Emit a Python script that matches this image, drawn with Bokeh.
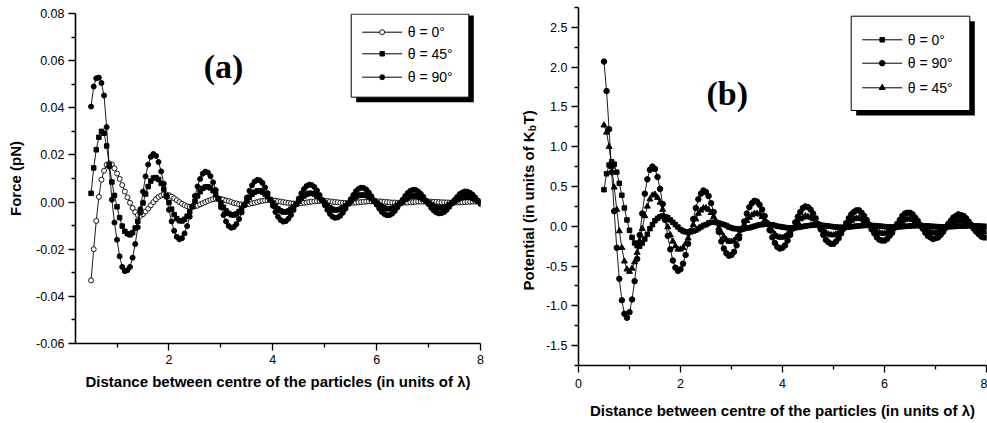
import math
from bokeh.plotting import figure
from bokeh.layouts import row
from bokeh.models import Range1d, FixedTicker, PrintfTickFormatter
from bokeh.core.properties import value
from bokeh.embed import file_html
from bokeh.resources import INLINE

# ---------------- data ----------------
X = [0.50, 0.55, 0.60, 0.65, 0.70, 0.75, 0.80, 0.85, 0.90, 0.95,
     1.00, 1.05, 1.10, 1.15, 1.20, 1.25, 1.30, 1.35, 1.40, 1.45,
     1.50, 1.55, 1.60, 1.65, 1.70, 1.75, 1.80, 1.85, 1.90, 1.95,
     2.00, 2.05, 2.10, 2.15, 2.20, 2.25, 2.30, 2.35, 2.40, 2.45,
     2.50, 2.55, 2.60, 2.65, 2.70, 2.75, 2.80, 2.85, 2.90, 2.95,
     3.00, 3.05, 3.10, 3.15, 3.20, 3.25, 3.30, 3.35, 3.40, 3.45,
     3.50, 3.55, 3.60, 3.65, 3.70, 3.75, 3.80, 3.85, 3.90, 3.95,
     4.00, 4.05, 4.10, 4.15, 4.20, 4.25, 4.30, 4.35, 4.40, 4.45,
     4.50, 4.55, 4.60, 4.65, 4.70, 4.75, 4.80, 4.85, 4.90, 4.95,
     5.00, 5.05, 5.10, 5.15, 5.20, 5.25, 5.30, 5.35, 5.40, 5.45,
     5.50, 5.55, 5.60, 5.65, 5.70, 5.75, 5.80, 5.85, 5.90, 5.95,
     6.00, 6.05, 6.10, 6.15, 6.20, 6.25, 6.30, 6.35, 6.40, 6.45,
     6.50, 6.55, 6.60, 6.65, 6.70, 6.75, 6.80, 6.85, 6.90, 6.95,
     7.00, 7.05, 7.10, 7.15, 7.20, 7.25, 7.30, 7.35, 7.40, 7.45,
     7.50, 7.55, 7.60, 7.65, 7.70, 7.75, 7.80, 7.85, 7.90, 7.95,
     8.00]

# panel (a): force (pN)
FORCE_0 = [-0.0332, -0.0200, -0.0080, 0.0022, 0.0095, 0.0133, 0.0158, 0.0164, 0.0160, 0.0143,
           0.0121, 0.0098, 0.0072, 0.0045, 0.0020, -0.0003, -0.0025, -0.0043, -0.0055, -0.0058,
           -0.0051, -0.0040, -0.0028, -0.0014, 0.0000, 0.0012, 0.0022, 0.0028, 0.0032, 0.0032,
           0.0029, 0.0023, 0.0016, 0.0008, 0.0000, -0.0007, -0.0013, -0.0018, -0.0020, -0.0020,
           -0.0018, -0.0015, -0.0010, -0.0005, 0.0000, 0.0005, 0.0009, 0.0012, 0.0014, 0.0014,
           0.0013, 0.0010, 0.0007, 0.0004, 0.0000, -0.0004, -0.0006, -0.0009, -0.0010, -0.0010,
           -0.0009, -0.0008, -0.0005, -0.0003, 0.0000, 0.0003, 0.0005, 0.0007, 0.0008, 0.0008,
           0.0007, 0.0006, 0.0004, 0.0002, 0.0000, -0.0002, -0.0004, -0.0005, -0.0006, -0.0006,
           -0.0006, -0.0005, -0.0003, -0.0002, 0.0000, 0.0002, 0.0003, 0.0004, 0.0005, 0.0005,
           0.0005, 0.0004, 0.0003, 0.0001, 0.0000, -0.0001, -0.0003, -0.0003, -0.0004, -0.0004,
           -0.0004, -0.0003, -0.0002, -0.0001, 0.0000, 0.0001, 0.0002, 0.0003, 0.0003, 0.0003,
           0.0003, 0.0003, 0.0002, 0.0001, 0.0000, -0.0001, -0.0002, -0.0002, -0.0003, -0.0003,
           -0.0003, -0.0002, -0.0002, -0.0001, 0.0000, 0.0001, 0.0002, 0.0002, 0.0002, 0.0002,
           0.0002, 0.0002, 0.0001, 0.0001, 0.0000, -0.0001, -0.0001, -0.0002, -0.0002, -0.0002,
           -0.0002, -0.0002, -0.0001, -0.0001, 0.0000, 0.0001, 0.0001, 0.0002, 0.0002, 0.0002,
           0.0002]
FORCE_45 = [0.0037, 0.0145, 0.0222, 0.0275, 0.0300, 0.0292, 0.0238, 0.0157, 0.0085, 0.0028,
            -0.0020, -0.0066, -0.0102, -0.0124, -0.0134, -0.0139, -0.0130, -0.0110, -0.0081, -0.0044,
            -0.0004, 0.0034, 0.0066, 0.0089, 0.0102, 0.0104, 0.0096, 0.0079, 0.0055, 0.0027,
            -0.0002, -0.0030, -0.0053, -0.0070, -0.0079, -0.0080, -0.0073, -0.0060, -0.0041, -0.0019,
            0.0004, 0.0026, 0.0044, 0.0058, 0.0064, 0.0065, 0.0060, 0.0048, 0.0032, 0.0014,
            -0.0004, -0.0022, -0.0038, -0.0048, -0.0054, -0.0055, -0.0050, -0.0040, -0.0027, -0.0012,
            0.0005, 0.0020, 0.0033, 0.0042, 0.0047, 0.0048, 0.0043, 0.0034, 0.0023, 0.0010,
            -0.0004, -0.0018, -0.0029, -0.0037, -0.0042, -0.0042, -0.0038, -0.0030, -0.0020, -0.0008,
            0.0004, 0.0016, 0.0026, 0.0033, 0.0037, 0.0037, 0.0034, 0.0026, 0.0018, 0.0007,
            -0.0004, -0.0014, -0.0024, -0.0030, -0.0034, -0.0033, -0.0030, -0.0024, -0.0016, -0.0006,
            0.0004, 0.0014, 0.0022, 0.0028, 0.0030, 0.0030, 0.0028, 0.0022, 0.0014, 0.0005,
            -0.0004, -0.0012, -0.0020, -0.0025, -0.0028, -0.0028, -0.0026, -0.0020, -0.0013, -0.0005,
            0.0004, 0.0012, 0.0018, 0.0024, 0.0026, 0.0026, 0.0024, 0.0018, 0.0012, 0.0004,
            -0.0004, -0.0011, -0.0018, -0.0022, -0.0024, -0.0024, -0.0022, -0.0018, -0.0011, -0.0004,
            0.0004, 0.0010, 0.0016, 0.0020, 0.0022, 0.0022, 0.0020, 0.0016, 0.0010, 0.0004,
            -0.0003]
FORCE_90 = [0.0405, 0.0490, 0.0525, 0.0528, 0.0505, 0.0452, 0.0318, 0.0150, 0.0010, -0.0087,
            -0.0160, -0.0230, -0.0275, -0.0293, -0.0289, -0.0275, -0.0236, -0.0178, -0.0107, -0.0030,
            0.0044, 0.0109, 0.0159, 0.0192, 0.0204, 0.0196, 0.0170, 0.0130, 0.0078, 0.0022,
            -0.0033, -0.0082, -0.0122, -0.0147, -0.0158, -0.0153, -0.0133, -0.0102, -0.0062, -0.0018,
            0.0026, 0.0066, 0.0098, 0.0120, 0.0129, 0.0125, 0.0110, 0.0084, 0.0051, 0.0015,
            -0.0022, -0.0055, -0.0082, -0.0101, -0.0109, -0.0106, -0.0093, -0.0072, -0.0044, -0.0013,
            0.0019, 0.0048, 0.0071, 0.0087, 0.0094, 0.0092, 0.0081, 0.0062, 0.0038, 0.0011,
            -0.0016, -0.0042, -0.0062, -0.0076, -0.0083, -0.0081, -0.0071, -0.0055, -0.0034, -0.0010,
            0.0015, 0.0037, 0.0055, 0.0068, 0.0074, 0.0072, 0.0064, 0.0049, 0.0030, 0.0009,
            -0.0013, -0.0033, -0.0050, -0.0062, -0.0067, -0.0065, -0.0058, -0.0045, -0.0028, -0.0008,
            0.0012, 0.0030, 0.0046, 0.0056, 0.0061, 0.0060, 0.0053, 0.0041, 0.0025, 0.0007,
            -0.0011, -0.0028, -0.0042, -0.0051, -0.0056, -0.0055, -0.0049, -0.0038, -0.0023, -0.0007,
            0.0010, 0.0026, 0.0039, 0.0048, 0.0052, 0.0051, 0.0045, 0.0035, 0.0022, 0.0006,
            -0.0009, -0.0024, -0.0036, -0.0044, -0.0048, -0.0047, -0.0042, -0.0033, -0.0020, -0.0006,
            0.0009, 0.0022, 0.0034, 0.0041, 0.0045, 0.0044, 0.0039, 0.0031, 0.0019, 0.0006,
            -0.0008]

# panel (b): potential (kT)
POT_0 = [0.46, 0.66, 0.77, 0.81, 0.78, 0.68, 0.54, 0.39, 0.23, 0.08,
         -0.05, -0.14, -0.21, -0.245, -0.25, -0.21, -0.16, -0.10, -0.03, 0.02,
         0.07, 0.10, 0.12, 0.13, 0.12, 0.11, 0.08, 0.05, 0.02, -0.01,
         -0.04, -0.06, -0.07, -0.08, -0.07, -0.06, -0.05, -0.03, -0.01, 0.01,
         0.02, 0.04, 0.05, 0.05, 0.05, 0.04, 0.03, 0.02, 0.01, -0.01,
         -0.02, -0.03, -0.03, -0.04, -0.03, -0.03, -0.02, -0.02, -0.01, 0.00,
         0.01, 0.02, 0.02, 0.03, 0.03, 0.02, 0.02, 0.01, 0.00, -0.003,
         -0.010, -0.015, -0.019, -0.021, -0.020, -0.018, -0.014, -0.009, -0.003, 0.002,
         0.008, 0.012, 0.015, 0.016, 0.016, 0.014, 0.011, 0.007, 0.003, -0.002,
         -0.006, -0.010, -0.012, -0.013, -0.013, -0.012, -0.009, -0.006, -0.002, 0.002,
         0.005, 0.008, 0.010, 0.011, 0.011, 0.010, 0.008, 0.005, 0.002, -0.001,
         -0.004, -0.007, -0.008, -0.009, -0.009, -0.008, -0.007, -0.004, -0.002, 0.001,
         0.004, 0.006, 0.007, 0.008, 0.008, 0.007, 0.006, 0.004, 0.001, -0.001,
         -0.003, -0.005, -0.006, -0.007, -0.007, -0.006, -0.005, -0.003, -0.001, 0.001,
         0.003, 0.004, 0.005, 0.006, 0.006, 0.005, 0.004, 0.003, 0.001, -0.001,
         -0.002]
POT_90 = [2.07, 1.70, 1.22, 0.68, 0.19, -0.27, -0.66, -0.93, -1.10, -1.15,
          -1.08, -0.92, -0.69, -0.41, -0.11, 0.16, 0.41, 0.59, 0.71, 0.75,
          0.72, 0.62, 0.47, 0.28, 0.08, -0.12, -0.29, -0.43, -0.52, -0.56,
          -0.54, -0.47, -0.36, -0.22, -0.06, 0.09, 0.23, 0.34, 0.41, 0.45,
          0.43, 0.38, 0.29, 0.18, 0.05, -0.07, -0.19, -0.28, -0.34, -0.37,
          -0.36, -0.32, -0.24, -0.15, -0.04, 0.06, 0.16, 0.24, 0.29, 0.32,
          0.31, 0.27, 0.21, 0.13, 0.04, -0.05, -0.14, -0.21, -0.26, -0.28,
          -0.27, -0.24, -0.18, -0.11, -0.03, 0.05, 0.12, 0.18, 0.23, 0.25,
          0.24, 0.21, 0.16, 0.10, 0.03, -0.04, -0.11, -0.17, -0.20, -0.22,
          -0.22, -0.19, -0.15, -0.09, -0.03, 0.04, 0.10, 0.15, 0.18, 0.20,
          0.20, 0.17, 0.13, 0.08, 0.02, -0.04, -0.09, -0.14, -0.17, -0.18,
          -0.18, -0.16, -0.12, -0.08, -0.02, 0.03, 0.08, 0.13, 0.16, 0.17,
          0.17, 0.15, 0.11, 0.07, 0.02, -0.03, -0.08, -0.12, -0.14, -0.16,
          -0.15, -0.14, -0.11, -0.07, -0.02, 0.03, 0.07, 0.11, 0.13, 0.15,
          0.14, 0.13, 0.10, 0.06, 0.02, -0.03, -0.07, -0.10, -0.13, -0.14,
          -0.14]
POT_45 = [1.27, 1.18, 1.00, 0.75, 0.49, 0.21, -0.06, -0.27, -0.44, -0.54,
          -0.57, -0.53, -0.45, -0.33, -0.18, -0.03, 0.13, 0.25, 0.34, 0.39,
          0.40, 0.36, 0.30, 0.21, 0.10, -0.01, -0.11, -0.19, -0.25, -0.29,
          -0.29, -0.27, -0.22, -0.15, -0.07, 0.02, 0.09, 0.16, 0.20, 0.23,
          0.23, 0.21, 0.17, 0.12, 0.05, -0.02, -0.08, -0.13, -0.17, -0.19,
          -0.19, -0.18, -0.14, -0.10, -0.04, 0.02, 0.07, 0.11, 0.14, 0.16,
          0.16, 0.15, 0.12, 0.08, 0.04, -0.02, -0.06, -0.10, -0.13, -0.14,
          -0.14, -0.13, -0.10, -0.07, -0.03, 0.02, 0.05, 0.09, 0.11, 0.13,
          0.12, 0.11, 0.09, 0.06, 0.02, -0.01, -0.05, -0.08, -0.10, -0.11,
          -0.11, -0.10, -0.08, -0.05, -0.02, 0.01, 0.05, 0.07, 0.09, 0.10,
          0.10, 0.09, 0.07, 0.05, 0.02, -0.02, -0.04, -0.07, -0.08, -0.09,
          -0.09, -0.08, -0.06, -0.04, -0.01, 0.01, 0.04, 0.06, 0.08, 0.09,
          0.09, 0.08, 0.06, 0.04, 0.01, -0.01, -0.04, -0.06, -0.07, -0.08,
          -0.08, -0.07, -0.06, -0.04, -0.01, 0.01, 0.03, 0.05, 0.06, 0.08,
          0.07, 0.07, 0.05, 0.03, 0.01, -0.01, -0.03, -0.05, -0.06, -0.07,
          -0.07]

A_X_TICKS = [2, 4, 6, 8]
A_X_MINOR = [1, 3, 5, 7]
A_Y_TICKS = [-0.06, -0.04, -0.02, 0.0, 0.02, 0.04, 0.06, 0.08]
A_Y_MINOR = [-0.05, -0.03, -0.01, 0.01, 0.03, 0.05, 0.07]
B_X_TICKS = [0, 2, 4, 6, 8]
B_X_MINOR = [1, 3, 5, 7]
B_Y_TICKS = [-1.5, -1.0, -0.5, 0.0, 0.5, 1.0, 1.5, 2.0, 2.5]
B_Y_MINOR = [-1.75, -1.25, -0.75, -0.25, 0.25, 0.75, 1.25, 1.75, 2.25, 2.75]

LEG_A = ["\u03b8 = 0\u00b0", "\u03b8 = 45\u00b0", "\u03b8 = 90\u00b0"]
LEG_B = ["\u03b8 = 0\u00b0", "\u03b8 = 90\u00b0", "\u03b8 = 45\u00b0"]
XTITLE = "Distance between centre of the particles (in units of \u03bb)"
YTITLE_B = ["Potential (in units of K", "b", "T)"]

SANS = "Liberation Sans"
SERIF = "Liberation Serif"

# ---------------- layout geometry (page pixels) ----------------
H = 423
A_W = 500          # panel (a) figure: page x 0..500
M_W = 40           # label strip: page x 500..540
B_W = 447          # panel (b) figure: page x 540..987
A_L, A_R, A_T, A_B = 75, 480, 13, 343
B_L, B_R, B_T, B_B = 578, 986, 7, 365
B_OFF = A_W + M_W
A_XR, A_YR = (0.2, 8.0), (-0.06, 0.08)
B_XR, B_YR = (0.0, 8.0), (-1.75, 2.75)


def mk(xr, yr, L, R, T, B):
    return (lambda px: xr[0] + (px - L) / (R - L) * (xr[1] - xr[0]),
            lambda py: yr[1] - (py - T) / (B - T) * (yr[1] - yr[0]))


ax_, ay_ = mk(A_XR, A_YR, A_L, A_R, A_T, A_B)
bx_, by_ = mk(B_XR, B_YR, B_L, B_R, B_T, B_B)


def no_align(p):
    try:
        p.frame_align = False
    except Exception:
        pass


def make_fig(W, L, R, T, B, xr, yr):
    p = figure(width=W, height=H, output_backend="svg", toolbar_location=None,
               x_range=Range1d(*xr), y_range=Range1d(*yr),
               min_border_left=L, min_border_right=W - R, min_border_top=T,
               min_border_bottom=H - B)
    no_align(p)
    p.outline_line_color = None
    p.xgrid.visible = False
    p.ygrid.visible = False
    p.background_fill_color = "white"
    p.border_fill_color = "white"
    for a in (p.xaxis[0], p.yaxis[0]):
        a.axis_line_color = "black"
        a.axis_line_width = 1.6
        a.major_tick_line_color = "black"
        a.major_tick_line_width = 1.3
        a.minor_tick_line_color = "black"
        a.minor_tick_line_width = 1.3
        a.major_tick_out = 7
        a.major_tick_in = 0
        a.minor_tick_out = 4
        a.minor_tick_in = 0
        a.major_label_text_font = SANS
        a.major_label_text_font_size = "12.5px"
        a.major_label_text_color = "black"
        a.major_label_standoff = 4
        a.axis_label_text_font = SANS
        a.axis_label_text_font_style = "bold"
        a.axis_label_text_font_size = "15px"
        a.axis_label_text_color = "black"
    return p


# ---------------- panel (a) ----------------
pa = make_fig(A_W, A_L, A_R, A_T, A_B, A_XR, A_YR)
pa.xaxis.ticker = FixedTicker(ticks=A_X_TICKS, minor_ticks=A_X_MINOR)
pa.yaxis.ticker = FixedTicker(ticks=A_Y_TICKS, minor_ticks=A_Y_MINOR)
pa.yaxis.formatter = PrintfTickFormatter(format="%.2f")
pa.xaxis.axis_label = XTITLE
pa.yaxis.axis_label = "Force (pN)"
pa.xaxis.axis_label_standoff = 6
pa.yaxis.axis_label_standoff = 9

pa.line(X, FORCE_0, line_color="black", line_width=0.9)
pa.scatter(X, FORCE_0, marker="circle", size=5, fill_color="white", line_color="black", line_width=0.9)
pa.line(X, FORCE_45, line_color="black", line_width=0.9)
pa.scatter(X, FORCE_45, marker="square", size=4.5, fill_color="black", line_color="black")
pa.line(X, FORCE_90, line_color="black", line_width=0.9)
pa.scatter(X, FORCE_90, marker="circle", size=5, fill_color="black", line_color="black")

pa.text(x=[ax_(223)], y=[ay_(66)], text=["(a)"], text_font=value(SERIF), text_font_style="bold",
        text_font_size="34px", text_align="center", text_baseline="middle", text_color="black")

# legend (a)
pa.quad(left=[ax_(355.7)], right=[ax_(473.3)], top=[ay_(15)], bottom=[ay_(101.7)],
        fill_color="black", line_color=None)
pa.quad(left=[ax_(350.7)], right=[ax_(468.3)], top=[ay_(13.6)], bottom=[ay_(96.7)],
        fill_color="white", line_color="black", line_width=1)
rows_a = [31.7, 53.3, 76.7]
for ry in rows_a:
    pa.line([ax_(361.7), ax_(401.7)], [ay_(ry), ay_(ry)], line_color="black", line_width=1)
mk_a = [dict(marker="circle", size=5, fill_color="white"),
        dict(marker="square", size=4.5, fill_color="black"),
        dict(marker="circle", size=5, fill_color="black")]
for i, ry in enumerate(rows_a):
    pa.scatter([ax_(381.7)], [ay_(ry)], line_color="black", line_width=0.9, **mk_a[i])
pa.text(x=[ax_(407.3)] * 3, y=[ay_(r) for r in rows_a], text=LEG_A, text_font=value(SANS),
        text_font_size="14px", text_align="left", text_baseline="middle", text_color="black")

# ---------------- strip holding the (b) y-axis title ----------------
pm = figure(width=M_W, height=H, output_backend="svg", toolbar_location=None,
            x_range=Range1d(A_W, B_OFF), y_range=Range1d(0, H),
            x_axis_type=None, y_axis_type=None,
            min_border_left=0, min_border_right=0, min_border_top=0, min_border_bottom=0)
no_align(pm)
pm.outline_line_color = None
pm.grid.visible = False
pm.background_fill_color = "white"
pm.border_fill_color = "white"
ylab_x = 528
ylab_start = 290
fs = 15
w_main = 10.612 * fs
pm.text(x=[ylab_x, ylab_x + 4, ylab_x],
        y=[H - ylab_start, H - ylab_start + w_main, H - ylab_start + w_main + 6.8],
        text=YTITLE_B, angle=math.pi / 2, text_font=value(SANS), text_font_style="bold",
        text_font_size=[f"{fs}px", "10px", f"{fs}px"], text_color="black",
        text_align="left", text_baseline="middle")

# ---------------- panel (b) ----------------
pb = make_fig(B_W, B_L - B_OFF, B_R - B_OFF, B_T, B_B, B_XR, B_YR)
pb.xaxis.ticker = FixedTicker(ticks=B_X_TICKS, minor_ticks=B_X_MINOR)
pb.yaxis.ticker = FixedTicker(ticks=B_Y_TICKS, minor_ticks=B_Y_MINOR)
pb.yaxis.formatter = PrintfTickFormatter(format="%.1f")
pb.xaxis.axis_label = XTITLE
pb.xaxis.major_label_standoff = 6
pb.xaxis.axis_label_standoff = 11

pb.line(X, POT_0, line_color="black", line_width=0.9)
pb.scatter(X, POT_0, marker="square", size=4.5, fill_color="black", line_color="black")
pb.line(X, POT_90, line_color="black", line_width=0.9)
pb.scatter(X, POT_90, marker="circle", size=5.5, fill_color="black", line_color="black")
pb.line(X, POT_45, line_color="black", line_width=0.9)
pb.scatter(X, POT_45, marker="triangle", size=6, fill_color="black", line_color="black")

pb.text(x=[bx_(726.7)], y=[by_(92.5)], text=["(b)"], text_font=value(SERIF), text_font_style="bold",
        text_font_size="34px", text_align="center", text_baseline="middle", text_color="black")

# legend (b)
pb.quad(left=[bx_(855.7)], right=[bx_(974.3)], top=[by_(20.7)], bottom=[by_(115)],
        fill_color="black", line_color=None)
pb.quad(left=[bx_(850.7)], right=[bx_(969.3)], top=[by_(15.7)], bottom=[by_(110)],
        fill_color="white", line_color="black", line_width=1)
rows_b = [39.3, 62.7, 87.3]
for ry in rows_b:
    pb.line([bx_(861.7), bx_(901.7)], [by_(ry), by_(ry)], line_color="black", line_width=1)
mk_b = [dict(marker="square", size=4.5), dict(marker="circle", size=5.5), dict(marker="triangle", size=6)]
for i, ry in enumerate(rows_b):
    pb.scatter([bx_(881.7)], [by_(ry)], fill_color="black", line_color="black", **mk_b[i])
pb.text(x=[bx_(907.3)] * 3, y=[by_(r) for r in rows_b], text=LEG_B, text_font=value(SANS),
        text_font_size="14px", text_align="left", text_baseline="middle", text_color="black")

layout = row(pa, pm, pb, spacing=0)
open("out.html", "w").write(file_html(layout, INLINE))
